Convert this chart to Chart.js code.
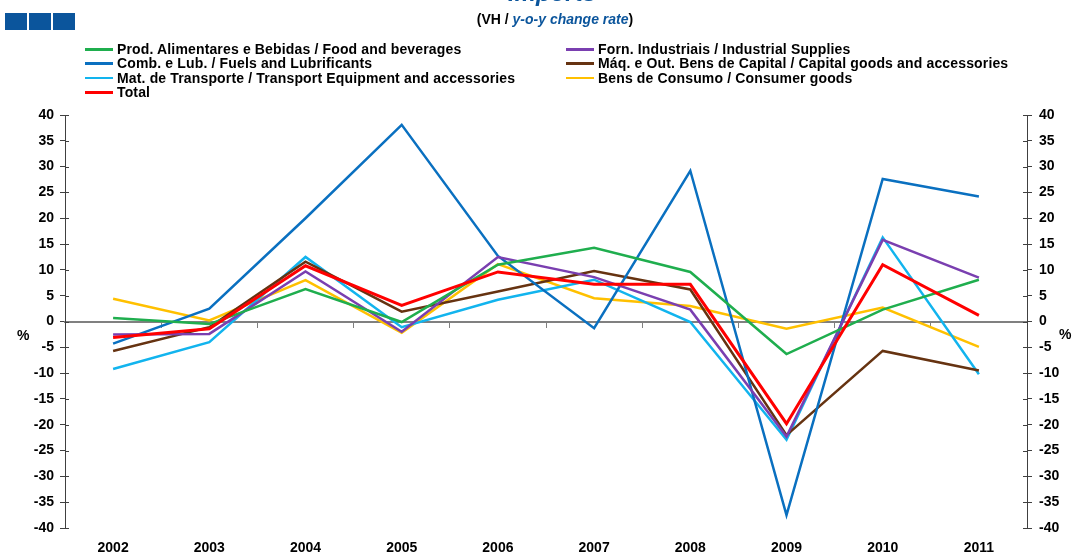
<!DOCTYPE html>
<html>
<head>
<meta charset="utf-8">
<script src="https://cdn.jsdelivr.net/npm/chart.js@4.4.1/dist/chart.umd.min.js"></script>
<style>
    body { margin: 0; background: #fff; font-family: "Liberation Sans", Arial, sans-serif; }
    #wrap { position: relative; width: 1073px; height: 553px; overflow: hidden; }
    #chart { position: absolute; left: 0; top: 0; }
    .sq { position: absolute; top: 13px; width: 22px; height: 17px; background: #0b559c; }
    #title { position: absolute; left: 452px; width: 200px; top: -21px; line-height: 24px; text-align: center;
             font: italic bold 24px "Liberation Sans", Arial, sans-serif; color: #0b559c; }
    #subtitle { position: absolute; left: 405px; width: 300px; top: 11px; line-height: 16px; text-align: center;
                font: bold 14px "Liberation Sans", Arial, sans-serif; color: #000; }
    #subtitle i { color: #0b559c; }
    .leg { position: absolute; font: bold 14px "Liberation Sans", Arial, sans-serif; letter-spacing: 0.15px;
           line-height: 14px; white-space: nowrap; color: #000; }
    .leg span.ln { position: absolute; height: 2.5px; width: 28px; }
    .pct { position: absolute; font: bold 14px "Liberation Sans", Arial, sans-serif; }
</style>
</head>
<body>
<div id="wrap">
    <canvas id="chart" width="1073" height="553"></canvas>
    <div class="sq" style="left:5px"></div>
    <div class="sq" style="left:29px"></div>
    <div class="sq" style="left:53px"></div>
    <div id="title">Imports</div>
    <div id="subtitle">(VH / <i>y-o-y change rate</i>)</div>
    <div class="pct" style="left:17px; top:327px">%</div>
    <div class="pct" style="left:1059px; top:326px">%</div>
    <div id="legend"></div>
</div>
<script>
// Data
const years = ['2002', '2003', '2004', '2005', '2006', '2007', '2008', '2009', '2010', '2011'];

const food       = [0.7, -0.5, 6.3, -0.1, 11.0, 14.3, 9.6, -6.3, 2.3, 8.1];
const industrial = [-2.5, -2.4, 9.7, -2.0, 12.5, 8.6, 2.3, -22.3, 15.8, 8.5];
const fuels      = [-4.3, 2.5, 20.0, 38.1, 12.7, -1.3, 29.2, -37.5, 27.6, 24.2];
const capital    = [-5.7, -1.1, 11.6, 1.9, 5.8, 9.8, 6.2, -22.0, -5.7, -9.5];
const transport  = [-9.2, -4.0, 12.5, -1.1, 4.2, 8.1, -0.1, -22.9, 16.3, -10.2];
const consumer   = [4.4, 0.2, 8.0, -2.2, 11.1, 4.5, 3.0, -1.4, 2.7, -4.9];
const total      = [-3.1, -1.4, 10.8, 3.1, 9.6, 7.2, 7.2, -19.8, 11.0, 1.2];

const series = [
    { name: 'Prod. Alimentares e Bebidas / Food and beverages', data: food, color: '#1fae4e', col: 0, row: 0 },
    { name: 'Forn. Industriais / Industrial Supplies', data: industrial, color: '#7a3fb0', col: 1, row: 0 },
    { name: 'Comb. e Lub. /  Fuels and Lubrificants', data: fuels, color: '#0a70c0', col: 0, row: 1 },
    { name: 'Máq. e Out. Bens de Capital / Capital goods and accessories', data: capital, color: '#663311', col: 1, row: 1 },
    { name: 'Mat. de Transporte / Transport Equipment and accessories', data: transport, color: '#12b4ee', col: 0, row: 2 },
    { name: 'Bens de Consumo / Consumer goods', data: consumer, color: '#ffc000', col: 1, row: 2 },
    { name: 'Total', data: total, color: '#ff0000', col: 0, row: 3 }
];

// HTML legend, two columns
const legendEl = document.getElementById('legend');
series.forEach(s => {
    const x = s.col === 0 ? 85 : 566;
    const y = 42 + s.row * 14.4;
    const d = document.createElement('div');
    d.className = 'leg';
    d.style.left = x + 'px';
    d.style.top = y + 'px';
    d.style.paddingLeft = '32px';
    d.innerHTML = `<span class="ln" style="left:0; top:6px; background:${s.color}"></span>${s.name}`;
    legendEl.appendChild(d);
});

// short ticks drawn inside the chart area on both value axes
const innerTicks = {
    id: 'innerTicks',
    afterDraw(chart) {
        const ctx = chart.ctx;
        ctx.save();
        ctx.strokeStyle = '#404040';
        ctx.lineWidth = 1;
        ['y', 'y2'].forEach(id => {
            const sc = chart.scales[id];
            const x0 = id === 'y' ? chart.chartArea.left : chart.chartArea.right;
            const dir = id === 'y' ? 1 : -1;
            sc.ticks.forEach(t => {
                const py = Math.round(sc.getPixelForValue(t.value)) + 0.5;
                ctx.beginPath();
                ctx.moveTo(x0, py);
                ctx.lineTo(x0 + dir * 4, py);
                ctx.stroke();
            });
        });
        ctx.restore();
    }
};

const tickFont = { family: '"Liberation Sans", Arial, sans-serif', size: 14, weight: 'bold' };

new Chart(document.getElementById('chart'), {
    type: 'line',
    data: {
        labels: years,
        datasets: series.map((s, i) => ({
            label: s.name,
            data: s.data,
            borderColor: s.color,
            backgroundColor: s.color,
            borderWidth: s.name === 'Total' ? 3 : 2.5,
            pointRadius: 0,
            tension: 0,
            fill: false,
            order: s.name === 'Total' ? 0 : i + 1
        }))
    },
    options: {
        responsive: false,
        animation: false,
        devicePixelRatio: 1,
        layout: { padding: { top: 115, left: 0, right: 0, bottom: 0 } },
        plugins: {
            legend: { display: false },
            tooltip: { enabled: false }
        },
        scales: {
            x: {
                type: 'category',
                position: 'bottom',
                offset: true,
                grid: { display: false },
                border: { display: false },
                ticks: { color: '#000', font: tickFont, padding: 4, maxRotation: 0 },
                afterFit: s => { s.height = 25; }
            },
            x2: {
                type: 'category',
                position: { y: 0 },
                offset: true,
                grid: { offset: true, drawOnChartArea: false, tickLength: 5, color: '#808080', lineWidth: 1 },
                border: { color: '#808080', width: 2 },
                ticks: { display: false }
            },
            y: {
                position: 'left',
                min: -40,
                max: 40,
                ticks: { stepSize: 5, color: '#000', font: tickFont, padding: 6 },
                grid: { drawOnChartArea: false, tickLength: 5, color: '#404040' },
                border: { color: '#404040', width: 1 },
                afterFit: s => { s.width = 65; }
            },
            y2: {
                position: 'right',
                min: -40,
                max: 40,
                ticks: { stepSize: 5, color: '#000', font: tickFont, padding: 7 },
                grid: { drawOnChartArea: false, tickLength: 5, color: '#404040' },
                border: { color: '#404040', width: 1 },
                afterFit: s => { s.width = 46; }
            }
        }
    },
    plugins: [innerTicks]
});
</script>
</body>
</html>
